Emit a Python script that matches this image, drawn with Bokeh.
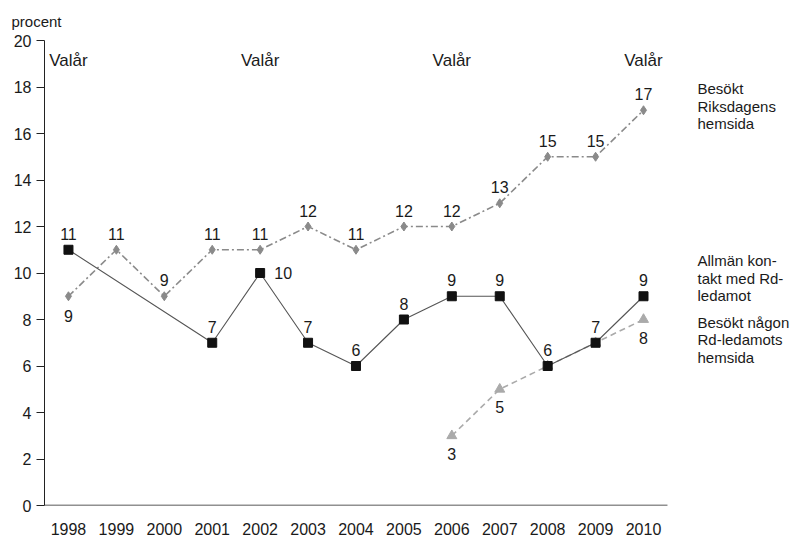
from bokeh.plotting import figure
from bokeh.models import ColumnDataSource, FixedTicker
from bokeh.core.properties import value
from bokeh.embed import file_html
from bokeh.resources import INLINE

# ---- data ----
years_riks = [1998, 1999, 2000, 2001, 2002, 2003, 2004, 2005, 2006, 2007, 2008, 2009, 2010]
vals_riks = [9, 11, 9, 11, 11, 12, 11, 12, 12, 13, 15, 15, 17]

years_kontakt = [1998, 2001, 2002, 2003, 2004, 2005, 2006, 2007, 2008, 2009, 2010]
vals_kontakt = [11, 7, 10, 7, 6, 8, 9, 9, 6, 7, 9]

years_ledamot = [2006, 2007, 2008, 2009, 2010]
vals_ledamot = [3, 5, 6, 7, 8]

election_years = [1998, 2002, 2006, 2010]
x_ticks = list(range(1998, 2011))
y_ticks = list(range(0, 21, 2))

name_riks = "Besökt\nRiksdagens\nhemsida"
name_kontakt = "Allmän kon-\ntakt med Rd-\nledamot"
name_ledamot = "Besökt någon\nRd-ledamots\nhemsida"

# label placement (style): screen offsets for value labels
off_riks_y = [20] + [-16] * 12
off_riks_x = [0] * 13
off_kontakt_y = [-16, -16, 0, -16, -16, -16, -16, -16, -16, -16, -16]
off_kontakt_x = [0, 0, 23, 0, 0, 0, 0, 0, 0, 0, 0]
show_ledamot = [True, True, False, False, True]

FONT = value("Liberation Sans")
INK = "#1a1a1a"

x_lo = x_ticks[0] - 0.5
x_hi = x_ticks[-1] + 0.5
px_per_year = 47.92
frame_w = 748
x_end = x_lo + frame_w / px_per_year

p = figure(width=792, height=537, x_range=(x_lo, x_end), y_range=(0, 20),
           output_backend="svg", toolbar_location=None,
           min_border_left=44, min_border_right=0, min_border_top=39, min_border_bottom=30)
p.outline_line_color = None
p.xgrid.visible = False
p.ygrid.visible = False

# title used as the y unit label
p.title.text = "procent"
p.title.align = "left"
p.title.offset = -33
p.title.standoff = 21
p.title.text_font = "Liberation Sans"
p.title.text_font_size = "15px"
p.title.text_font_style = "normal"
p.title.text_color = INK

# axes
p.xaxis.ticker = FixedTicker(ticks=x_ticks)
p.yaxis.ticker = FixedTicker(ticks=y_ticks)
for ax in (p.xaxis, p.yaxis):
    ax.major_label_text_font = "Liberation Sans"
    ax.major_label_text_font_size = "16px"
    ax.major_label_text_color = INK
    ax.minor_tick_line_color = None
p.xaxis.axis_line_color = None
p.xaxis.major_tick_line_color = None
p.xaxis.major_tick_out = 0
p.xaxis.major_tick_in = 0
p.xaxis.major_label_standoff = 17
p.yaxis.axis_line_color = "#222222"
p.yaxis.major_tick_line_color = "#222222"
p.yaxis.major_tick_out = 8
p.yaxis.major_tick_in = 0
p.yaxis.major_label_standoff = 5

# x baseline spanning the year range only
p.segment(x0=[x_lo], y0=[0], x1=[x_hi], y1=[0], line_color="#222222", line_width=1.6)

# series: ledamot (dashed, light gray triangles)
p.line(years_ledamot, vals_ledamot, line_color="#aaaaaa", line_width=1.6, line_dash="6 4")
p.scatter(years_ledamot, vals_ledamot, marker="triangle", size=10,
          fill_color="#aaaaaa", line_color="#aaaaaa")

# series: riksdagens (dash-dot, gray diamonds)
p.line(years_riks, vals_riks, line_color="#8a8a8a", line_width=1.6, line_dash="7 3 2 3")
p.scatter(years_riks, vals_riks, marker="diamond", size=9,
          fill_color="#8a8a8a", line_color="#8a8a8a")

# series: kontakt (solid, black squares)
p.line(years_kontakt, vals_kontakt, line_color="#555555", line_width=1.1)
p.scatter(years_kontakt, vals_kontakt, marker="square", size=9,
          fill_color="#111111", line_color="#111111")

# value labels
src_riks = ColumnDataSource(dict(x=years_riks, y=vals_riks, t=[str(v) for v in vals_riks],
                                 xo=off_riks_x, yo=off_riks_y))
p.text(x="x", y="y", text="t", x_offset="xo", y_offset="yo", source=src_riks,
       text_font=FONT, text_font_size="16px", text_color=INK,
       text_align="center", text_baseline="middle")

src_k = ColumnDataSource(dict(x=years_kontakt, y=vals_kontakt, t=[str(v) for v in vals_kontakt],
                              xo=off_kontakt_x, yo=off_kontakt_y))
p.text(x="x", y="y", text="t", x_offset="xo", y_offset="yo", source=src_k,
       text_font=FONT, text_font_size="16px", text_color=INK,
       text_align="center", text_baseline="middle")

lx = [x for x, s in zip(years_ledamot, show_ledamot) if s]
ly = [v for v, s in zip(vals_ledamot, show_ledamot) if s]
src_l = ColumnDataSource(dict(x=lx, y=ly, t=[str(v) for v in ly]))
p.text(x="x", y="y", text="t", y_offset=18, source=src_l,
       text_font=FONT, text_font_size="16px", text_color=INK,
       text_align="center", text_baseline="middle")

# election year markers
p.text(x=election_years, y=[20] * len(election_years), text=["Valår"] * len(election_years),
       y_offset=20, text_font=FONT, text_font_size="17px", text_color=INK,
       text_align="center", text_baseline="middle")

# series names on the right
names = [name_riks, name_kontakt, name_ledamot]
name_y = [vals_riks[-1], vals_kontakt[-1], vals_ledamot[-1]]
name_yo = [-30, -44, -6]
src_n = ColumnDataSource(dict(x=[years_riks[-1]] * 3, y=name_y, t=names, yo=name_yo))
p.text(x="x", y="y", text="t", x_offset=54, y_offset="yo", source=src_n,
       text_font=FONT, text_font_size="15px", text_color=INK,
       text_align="left", text_baseline="top", text_line_height=1.03)

open("out.html", "w").write(file_html(p, INLINE))
